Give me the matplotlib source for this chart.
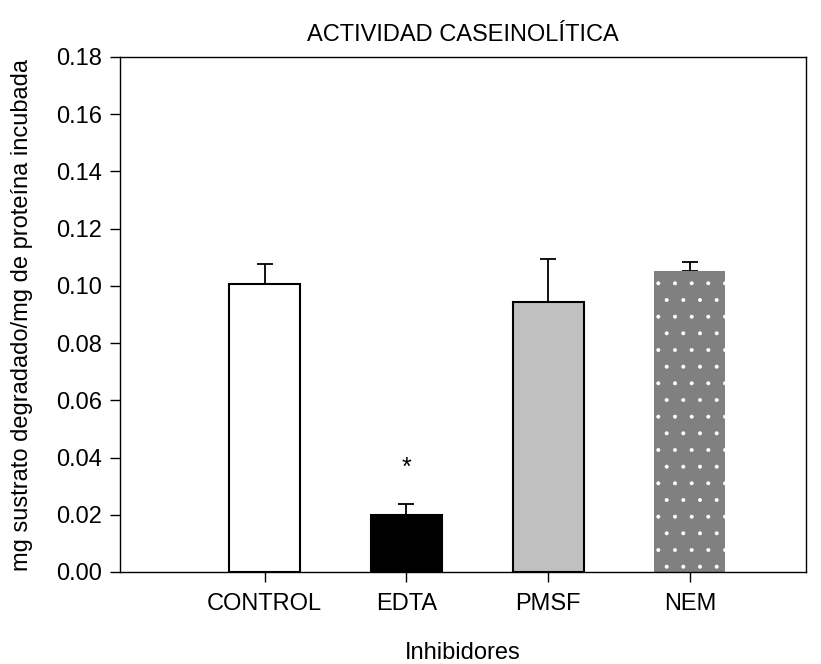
import matplotlib
matplotlib.use("Agg")
import matplotlib.pyplot as plt

plt.rcParams['font.family'] = ['Liberation Sans', 'DejaVu Sans']
plt.rcParams['hatch.linewidth'] = 0.4

inhibidores = ['CONTROL', 'EDTA', 'PMSF', 'NEM']
actividad = [0.1005, 0.0198, 0.0943, 0.1053]
error_sup = [0.0070, 0.0040, 0.0150, 0.0030]
colores = ['white', 'black', '#c0c0c0', '#808080']

fig = plt.figure(figsize=(8.21, 6.64), dpi=100)
ax = fig.add_axes([0.146, 0.1386, 0.836, 0.7756])

x = [1, 2, 3, 4]
for i in range(4):
    if inhibidores[i] == 'NEM':
        ax.bar(x[i], actividad[i], 0.5, color=colores[i], edgecolor='white',
               linewidth=0, hatch='.', zorder=2)
    else:
        ax.bar(x[i], actividad[i], 0.5, color=colores[i], edgecolor='black',
               linewidth=1.5, zorder=2)
    ax.errorbar(x[i], actividad[i], yerr=[[0], [error_sup[i]]], fmt='none',
                ecolor='black', elinewidth=1.3, capsize=5.5, capthick=1.3, zorder=1)

# significance mark over EDTA
ax.text(2, 0.0365, '*', ha='center', va='center', fontsize=18)

ax.set_xlim(-0.02, 4.82)
ax.set_ylim(0, 0.18)
ax.set_yticks([i * 0.02 for i in range(10)])
ax.set_yticklabels(['%.2f' % (i * 0.02) for i in range(10)])
ax.set_xticks(x)
ax.set_xticklabels(inhibidores)
ax.tick_params(axis='both', direction='out', labelsize=17, length=7, width=1)
ax.tick_params(axis='x', pad=8)
ax.tick_params(axis='y', pad=6)

for s in ax.spines.values():
    s.set_linewidth(1)

fig.text(0.564, 0.948, 'ACTIVIDAD CASEINOLÍTICA', fontsize=17, ha='center', va='center')
fig.text(0.564, 0.0166, 'Inhibidores', fontsize=17, ha='center', va='center')
fig.text(0.027, 0.526, 'mg sustrato degradado/mg de proteína incubada', fontsize=17,
         ha='center', va='center', rotation=90)

fig.savefig('out.png', dpi=100)
